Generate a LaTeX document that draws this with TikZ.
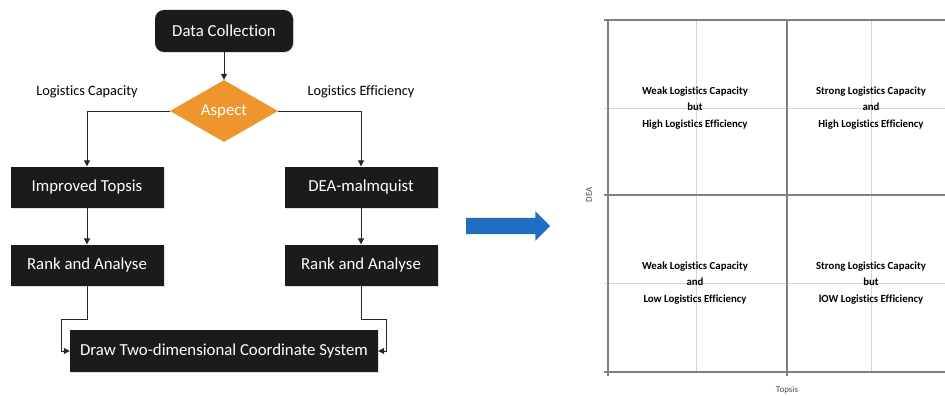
\documentclass[tikz,border=0pt]{standalone}
\usepackage{fontspec}
\setmainfont[Ligatures={NoCommon}]{Carlito}
\usetikzlibrary{shapes.geometric,shapes.arrows,arrows.meta,shadows}
\definecolor{boxblack}{HTML}{1B1B1B}
\definecolor{aspectorange}{HTML}{EE952E}
\definecolor{arrowblue}{HTML}{1F6EC2}
\definecolor{majorgrid}{HTML}{808080}
\definecolor{minorgrid}{HTML}{D6D6D6}
\tikzset{
  blk/.style={fill=boxblack, text=white, font=\fontsize{16.8}{19}\selectfont,
    minimum width=153pt, minimum height=41pt, inner sep=0pt,
    drop shadow={opacity=0.25, shadow xshift=1pt, shadow yshift=-1pt}},
  conn/.style={draw=black!85, line width=1pt, -{Triangle[length=6pt,width=6pt]}},
  branchlbl/.style={font=\fontsize{14.3}{16}\selectfont, text=black},
  quad/.style={align=center, font=\bfseries\fontsize{10.8}{16.3}\selectfont, text=black},
  axislbl/.style={font=\fontsize{9}{10}\selectfont, text=black!70},
  major/.style={draw=majorgrid, line width=1.3pt},
  minor/.style={draw=minorgrid, line width=0.9pt}
}
\begin{document}
\begin{tikzpicture}[x=1pt,y=-1pt]
\useasboundingbox (0,0) rectangle (945,396);

% ---- flowchart ----
\node[blk, rounded corners=9pt, minimum width=138pt, minimum height=42pt] (dc) at (224,31) {Data Collection};
\node[diamond, fill=aspectorange, text=white, inner sep=0pt, minimum width=108pt, minimum height=62pt,
      font=\fontsize{16.8}{19}\selectfont] (asp) at (224,111) {Aspect};
\node[branchlbl] (lcap) at (87,92) {Logistics Capacity};
\node[branchlbl] (leff) at (361,92) {Logistics Efficiency};

\node[blk] (it)  at (87,187)  {Improved Topsis};
\node[blk] (dea) at (361,187) {DEA-malmquist};
\node[blk] (ra1) at (87,265)  {Rank and Analyse};
\node[blk] (ra2) at (361,265) {Rank and Analyse};
\node[blk, minimum width=308pt, minimum height=42pt] (dtc) at (224,351) {Draw Two-dimensional Coordinate System};

\draw[conn] (dc) -- (asp);
\draw[conn] (asp.west) -| (it.north);
\draw[conn] (asp.east) -| (dea.north);
\draw[conn] (it) -- (ra1);
\draw[conn] (dea) -- (ra2);
\draw[conn] (ra1.south) -- ++(0,34) -| ([xshift=-8pt]dtc.west) -- (dtc.west);
\draw[conn] (ra2.south) -- ++(0,34) -| ([xshift=8pt]dtc.east) -- (dtc.east);

% ---- transition arrow ----
\node[single arrow, fill=arrowblue, inner sep=8pt, minimum height=84pt, minimum width=29pt,
      single arrow head extend=6.5pt] (arr) at (504,226) {};

% ---- quadrant chart ----
\draw[minor] (696,20) -- (696,372);
\draw[minor] (871,20) -- (871,372);
\draw[minor] (604,108) -- (945,108);
\draw[minor] (604,283) -- (945,283);
\draw[major] (604,20) -- (945,20);
\draw[major] (604,195) -- (945,195);
\draw[major] (604,372) -- (945,372);
\draw[major] (608,20) -- (608,376);
\draw[major] (787,20) -- (787,376);

\node[quad] (q1) at (695,108) {Weak Logistics Capacity\\but\\High Logistics Efficiency};
\node[quad] (q2) at (871,108) {Strong Logistics Capacity\\and\\High Logistics Efficiency};
\node[quad] (q3) at (695,283) {Weak Logistics Capacity\\and\\Low Logistics Efficiency};
\node[quad] (q4) at (871,283) {Strong Logistics Capacity\\but\\lOW Logistics Efficiency};

\node[axislbl, rotate=90] (ylbl) at (589,195) {DEA};
\node[axislbl] (xlbl) at (787,390) {Topsis};
\end{tikzpicture}
\end{document}
